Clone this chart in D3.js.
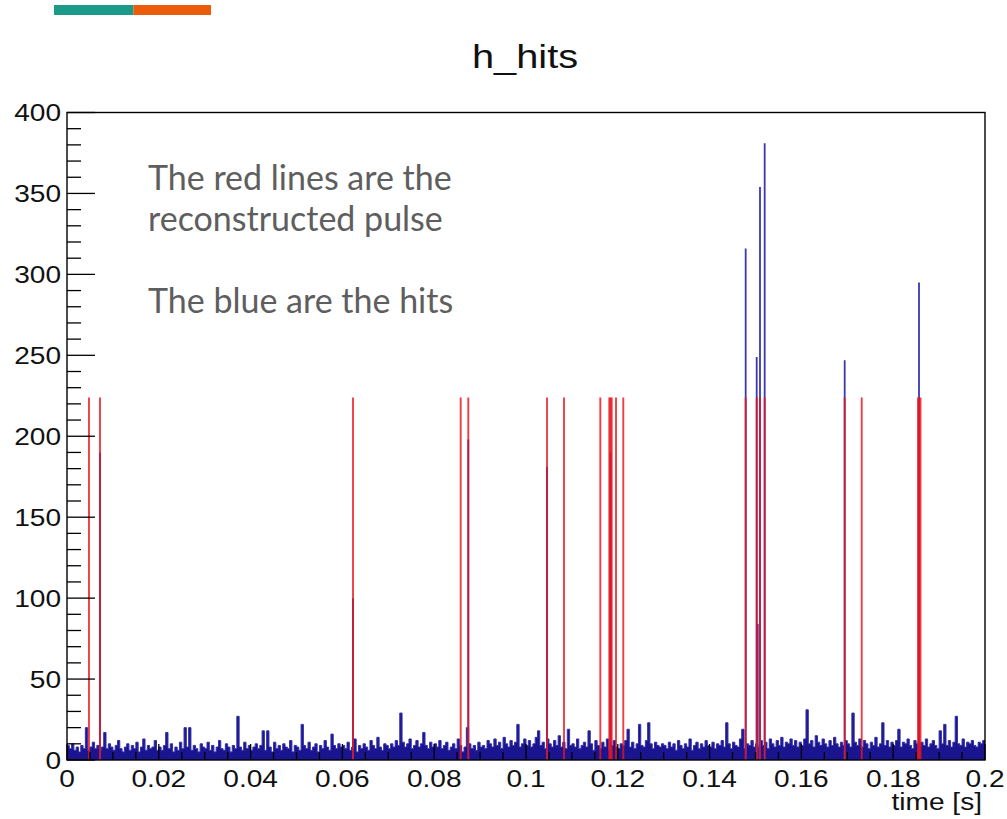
<!DOCTYPE html>
<html>
<head>
<meta charset="utf-8">
<script src="https://cdn.jsdelivr.net/npm/d3@7"></script>
<style>
  html, body { margin: 0; padding: 0; background: #ffffff; }
  svg { display: block; }
</style>
</head>
<body>
<script>
// ---------------- DATA ----------------
const title = "h_hits";
const xLabel = "time [s]";
const xDomain = [0, 0.2];
const yDomain = [0, 400];
const xTickLabels = ["0", "0.02", "0.04", "0.06", "0.08", "0.1", "0.12", "0.14", "0.16", "0.18", "0.2"];
const yTickLabels = ["0", "50", "100", "150", "200", "250", "300", "350", "400"];
const noteLines = ["The red lines are the", "reconstructed pulse", "", "The blue are the hits"];

// hit counts per 0.5 ms bin (400 bins, 0 - 0.2 s)
const binWidth = 0.0005;
const hitNoise = [
  9,7,10,6,8,5,9,7,20,6,8,11,7,9,6,8,17,7,10,8,
  6,9,12,7,5,8,10,6,9,7,11,5,8,13,6,9,7,8,12,6,
  8,6,9,17,7,10,5,8,6,11,7,20,8,20,6,9,7,5,10,8,
  7,11,6,9,5,8,12,7,6,10,8,5,9,7,27,8,6,11,7,9,
  6,8,10,7,9,18,6,18,8,5,11,7,9,6,10,8,7,12,5,9,
  8,6,22,9,7,11,6,8,10,5,9,7,12,8,6,16,9,7,10,8,
  9,7,11,6,8,13,5,9,7,10,8,6,12,9,7,14,8,6,10,9,
  7,10,8,12,9,29,11,8,10,13,7,9,12,8,10,17,9,7,11,8,
  10,8,12,7,9,11,6,8,10,7,13,9,5,8,20,10,7,9,6,11,
  8,9,7,12,10,8,13,9,11,7,14,10,8,12,9,11,22,8,10,13,
  9,12,8,10,14,18,9,11,7,13,10,8,12,9,15,8,11,7,19,9,
  10,8,13,7,9,11,8,18,10,6,12,9,7,11,8,13,6,9,12,8,
  7,10,9,12,19,8,11,7,10,22,9,8,12,23,10,7,11,9,8,10,
  9,7,11,8,10,6,12,9,7,10,8,13,6,9,11,7,10,8,12,9,
  8,11,7,10,9,12,8,23,10,7,11,9,8,13,19,7,10,9,12,8,
  10,8,12,9,11,7,13,10,8,12,9,14,8,11,10,13,9,12,8,11,
  9,13,31,10,12,8,15,11,9,13,10,8,12,9,14,10,8,11,9,12,
  10,8,29,11,9,13,8,12,10,7,11,9,14,8,10,23,9,12,8,11,
  9,12,19,8,11,10,13,9,7,12,10,8,11,9,13,8,10,12,9,7,
  18,10,22,9,12,8,11,27,10,9,13,8,11,10,12,9,8,11,10,12
];

// large single-bin hit peaks
const peakTimes  = [0.00719, 0.06231, 0.08743, 0.10458, 0.11841, 0.14786, 0.15026, 0.15050, 0.15098, 0.15200, 0.16943, 0.18562];
const peakCounts = [190,     100,     198,     181,     190,     316,     249,     84,      354,     381,     247,     295];

// reconstructed pulses (red lines)
const pulseTimes = [0.00479, 0.00719, 0.06231, 0.08577, 0.08743, 0.10458, 0.10828, 0.11619,
                    0.11815, 0.11841, 0.11867, 0.11961, 0.12120, 0.14786, 0.15026, 0.15098,
                    0.15200, 0.16943, 0.17314, 0.18540, 0.18562, 0.18595];
const pulseHeight = 224;

// ---------------- LAYOUT ----------------
const W = 1007, H = 819;
const plot = { left: 67, right: 985, top: 112.5, bottom: 760 };
const sx = 1.17; // horizontal stretch of the ROOT text in the picture

const svg = d3.select("body").append("svg").attr("width", W).attr("height", H);

const x = d3.scaleLinear().domain(xDomain).range([plot.left, plot.right]);
const y = d3.scaleLinear().domain(yDomain).range([plot.bottom, plot.top]);

// decorative header bar
svg.append("rect").attr("x", 54).attr("y", 5).attr("width", 79.3).attr("height", 10).attr("fill", "#1a9a89");
svg.append("rect").attr("x", 133.3).attr("y", 5).attr("width", 77.7).attr("height", 10).attr("fill", "#ea5b0c");

// histogram of hits
const histPts = hitNoise.map((v, i) => [i * binWidth, v]);
histPts.push([hitNoise.length * binWidth, hitNoise[hitNoise.length - 1]]);
const area = d3.area()
  .x(d => x(d[0])).y0(y(0)).y1(d => y(d[1]))
  .curve(d3.curveStepAfter);
const line = d3.line()
  .x(d => x(d[0])).y(d => y(d[1]))
  .curve(d3.curveStepAfter);
svg.append("path").datum(histPts).attr("d", area).attr("fill", "#1b148f");
svg.append("path").datum(histPts).attr("d", line).attr("fill", "none")
  .attr("stroke", "#3330a8").attr("stroke-width", 1);

// peaks
svg.append("g").selectAll("line").data(peakTimes).join("line")
  .attr("x1", d => x(d)).attr("x2", d => x(d))
  .attr("y1", y(0)).attr("y2", (d, i) => y(peakCounts[i]))
  .attr("stroke", "#3a37b0").attr("stroke-width", 1.8);

// reconstructed pulse lines
svg.append("g").selectAll("line").data(pulseTimes).join("line")
  .attr("x1", d => x(d)).attr("x2", d => x(d))
  .attr("y1", y(0)).attr("y2", y(pulseHeight))
  .attr("stroke", "#e8141c").attr("stroke-opacity", 0.82).attr("stroke-width", 1.9);

// frame
svg.append("rect")
  .attr("x", plot.left).attr("y", plot.top)
  .attr("width", plot.right - plot.left).attr("height", plot.bottom - plot.top)
  .attr("fill", "none").attr("stroke", "#000").attr("stroke-width", 1.4);

// y axis ticks (ROOT style, inside)
const yMinor = d3.range(0, 401, 10);
svg.append("g").selectAll("line").data(yMinor).join("line")
  .attr("x1", plot.left).attr("x2", d => plot.left + (d % 50 === 0 ? 28 : 14))
  .attr("y1", d => y(d)).attr("y2", d => y(d))
  .attr("stroke", "#000").attr("stroke-width", 1.3);

// x axis ticks
const xMinor = d3.range(0, 41).map(i => i * 0.005);
svg.append("g").selectAll("line").data(xMinor).join("line")
  .attr("x1", d => x(d)).attr("x2", d => x(d))
  .attr("y1", plot.bottom).attr("y2", (d, i) => plot.bottom - (i % 4 === 0 ? 16 : 8))
  .attr("stroke", "#000").attr("stroke-width", 1.3);

const font = "'Liberation Sans', Arial, sans-serif";

// y tick labels
svg.append("g").selectAll("text").data(yTickLabels).join("text")
  .attr("transform", d => `translate(61,${y(+d) + 8.5}) scale(${sx},1)`)
  .attr("text-anchor", "end")
  .attr("font-family", font).attr("font-size", 24).attr("fill", "#111")
  .text(d => d);

// x tick labels
svg.append("g").selectAll("text").data(xTickLabels).join("text")
  .attr("transform", d => `translate(${x(+d)},787) scale(${sx},1)`)
  .attr("text-anchor", "middle")
  .attr("font-family", font).attr("font-size", 24).attr("fill", "#111")
  .text(d => d);

// x axis title
svg.append("text")
  .attr("transform", `translate(982,810) scale(${sx},1)`)
  .attr("text-anchor", "end")
  .attr("font-family", font).attr("font-size", 24).attr("fill", "#111")
  .text(xLabel);

// chart title
svg.append("text")
  .attr("transform", `translate(525,68) scale(${sx},1)`)
  .attr("text-anchor", "middle")
  .attr("font-family", font).attr("font-size", 34).attr("fill", "#111")
  .text(title);

// annotation
const noteY = [190, 231, 272, 313];
svg.append("g").selectAll("text").data(noteLines).join("text")
  .attr("x", 148).attr("y", (d, i) => noteY[i])
  .attr("font-family", "Lato, 'Open Sans', sans-serif").attr("font-size", 34)
  .attr("fill", "#5e5e5e")
  .text(d => d);
</script>
</body>
</html>
